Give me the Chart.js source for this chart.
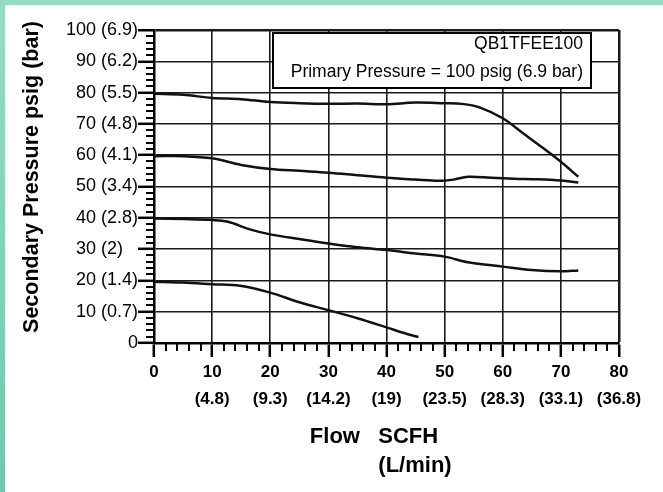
<!DOCTYPE html>
<html>
<head>
<meta charset="utf-8">
<script src="https://cdn.jsdelivr.net/npm/chart.js@4.4.0/dist/chart.umd.min.js"></script>
<style>
  html, body { margin: 0; padding: 0; background: #fff; }
  #wrap { position: relative; width: 663px; height: 492px; overflow: hidden; }
  #edgeTop { position: absolute; left: 0; top: 0; width: 663px; height: 5px; background: #96dbc6; }
  #edgeLeft { position: absolute; left: 0; top: 0; width: 5px; height: 492px; background: linear-gradient(#96dbc6, #70c8ae); }
</style>
</head>
<body>
<div id="wrap">
  <canvas id="regChart" width="663" height="492"></canvas>
  <div id="edgeTop"></div>
  <div id="edgeLeft"></div>
</div>
<script>
// tick labels
const flowTicks = [0, 10, 20, 30, 40, 50, 60, 70, 80];
const lpmTicks = ['', '4.8', '9.3', '14.2', '19', '23.5', '28.3', '33.1', '36.8'];
const psigTicks = [0, 10, 20, 30, 40, 50, 60, 70, 80, 90, 100];
const barTicks = ['', '0.7', '1.4', '2', '2.8', '3.4', '4.1', '4.8', '5.5', '6.2', '6.9'];

// curves (flow SCFH -> secondary psig)
const flow80 = [0, 5, 10, 15, 20, 25, 30, 35, 40, 45, 50, 53, 56, 60, 63.5, 67, 70, 73];
const press80 = [79.6, 79.3, 78.3, 77.9, 77.0, 76.6, 76.4, 76.5, 76.3, 76.8, 76.6, 76.4, 75.3, 71.8, 67.0, 62.2, 57.9, 53.1];

const flow60 = [0, 5, 10, 15, 20, 25, 30, 35, 40, 45, 49, 51.5, 54, 58, 62, 66, 70, 73];
const press60 = [59.7, 59.7, 59.0, 56.9, 55.6, 55.0, 54.4, 53.6, 52.8, 52.2, 51.8, 52.2, 53.1, 52.8, 52.5, 52.3, 51.9, 51.3];

const flow40 = [0, 5, 10, 12.6, 16.5, 20, 25, 30, 35, 40, 45, 50, 54, 60, 65, 70, 73];
const press40 = [39.8, 39.6, 39.3, 38.8, 36.3, 34.7, 33.2, 31.8, 30.6, 29.7, 28.6, 27.6, 25.8, 24.4, 23.3, 22.9, 23.2];

const flow20 = [0, 5, 10, 14.8, 20, 25, 30, 35, 40, 43, 45.5];
const press20 = [19.6, 19.3, 18.8, 18.3, 16.1, 13.0, 10.5, 7.9, 5.0, 3.2, 1.9];

const FONT = '"Liberation Sans", Arial, Helvetica, sans-serif';
Chart.defaults.font.family = FONT;
Chart.defaults.color = '#000';

function curve(xs, ys) {
    return {
        data: xs.map((x, i) => ({ x: x, y: ys[i] })),
        borderColor: '#111',
        borderWidth: 2.5,
        pointRadius: 0,
        fill: false,
        tension: 0.35
    };
}

// minor ticks, note box and axis titles
const decor = {
    id: 'decor',
    afterDraw(chart) {
        const ctx = chart.ctx;
        const xs = chart.scales.x, ys = chart.scales.y;
        const area = chart.chartArea;
        ctx.save();
        ctx.strokeStyle = '#000';
        ctx.lineWidth = 2;
        ctx.beginPath();
        for (let v = 0; v <= 100; v += 2) {
            if (v % 10 === 0) continue;
            const py = Math.round(ys.getPixelForValue(v));
            ctx.moveTo(area.left - 8, py);
            ctx.lineTo(area.left, py);
        }
        for (let v = 0; v <= 80; v += 2) {
            if (v % 10 === 0) continue;
            const px = Math.round(xs.getPixelForValue(v));
            ctx.moveTo(px, area.bottom);
            ctx.lineTo(px, area.bottom + 8);
        }
        ctx.stroke();

        // note box
        ctx.fillStyle = '#fff';
        ctx.fillRect(273, 33, 318, 55);
        ctx.lineWidth = 2;
        ctx.strokeRect(273, 33, 318, 55);
        ctx.fillStyle = '#000';
        ctx.font = '17.5px ' + FONT;
        ctx.textAlign = 'right';
        ctx.textBaseline = 'middle';
        ctx.fillText('QB1TFEE100', 583, 44);
        ctx.fillText('Primary Pressure = 100 psig (6.9 bar)', 583, 72);

        // axis titles
        ctx.textAlign = 'center';
        ctx.font = 'bold 22px ' + FONT;
        ctx.fillText('Flow   SCFH', 374, 437);
        ctx.fillText('(L/min)', 415, 466);
        ctx.translate(32, 177);
        ctx.rotate(-Math.PI / 2);
        ctx.font = 'bold 21.5px ' + FONT;
        ctx.fillText('Secondary Pressure psig (bar)', 0, 0);
        ctx.restore();
    }
};

new Chart(document.getElementById('regChart'), {
    type: 'line',
    data: {
        datasets: [
            curve(flow80, press80),
            curve(flow60, press60),
            curve(flow40, press40),
            curve(flow20, press20)
        ]
    },
    options: {
        responsive: false,
        animation: false,
        devicePixelRatio: 1,
        layout: { padding: { left: 0, top: 30, right: 44, bottom: 0 } },
        plugins: { legend: { display: false }, tooltip: { enabled: false } },
        scales: {
            x: {
                type: 'linear',
                min: 0,
                max: 80,
                afterFit: (s) => { s.height = 149; },
                ticks: {
                    stepSize: 10,
                    autoSkip: false,
                    maxRotation: 0,
                    padding: 2,
                    font: { size: 17, weight: 'bold', lineHeight: '27px' },
                    callback: (value) => {
                        const i = flowTicks.indexOf(value);
                        return lpmTicks[i] ? [String(value), '(' + lpmTicks[i] + ')'] : String(value);
                    }
                },
                grid: {
                    color: '#1a1a1a',
                    lineWidth: (c) => (c.tick && c.tick.value === 80 ? 2.5 : 1.6),
                    tickLength: 14,
                    tickWidth: 2.5,
                    tickColor: '#000'
                },
                border: { color: '#000', width: 2.5 }
            },
            y: {
                min: 0,
                max: 100,
                afterFit: (s) => { s.width = 154; },
                ticks: {
                    stepSize: 10,
                    padding: 0,
                    font: { size: 18 },
                    callback: (value) => {
                        const i = psigTicks.indexOf(value);
                        let label = barTicks[i] ? value + ' (' + barTicks[i] + ')' : String(value);
                        if (value === 30) label += '   ';
                        return label;
                    }
                },
                grid: {
                    color: '#1a1a1a',
                    lineWidth: (c) => (c.tick && c.tick.value === 100 ? 2.5 : 1.6),
                    tickLength: 16,
                    tickWidth: 2.5,
                    tickColor: '#000'
                },
                border: { color: '#000', width: 2.5 }
            }
        }
    },
    plugins: [decor]
});
</script>
</body>
</html>
